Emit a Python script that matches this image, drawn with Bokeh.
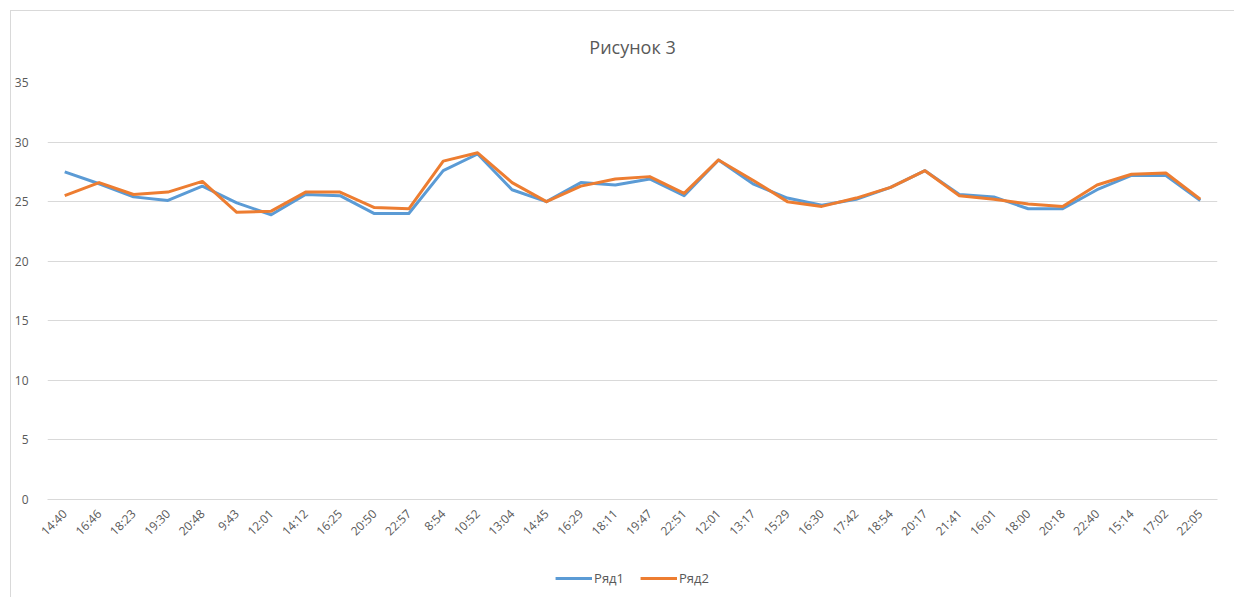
from bokeh.plotting import figure
from bokeh.layouts import column
from bokeh.models import FixedTicker, Legend, LegendItem, Range1d, Title
from bokeh.embed import file_html
from bokeh.resources import INLINE
import math

categories = ["14:40", "16:46", "18:23", "19:30", "20:48", "9:43", "12:01", "14:12", "16:25",
              "20:50", "22:57", "8:54", "10:52", "13:04", "14:45", "16:29", "18:11", "19:47",
              "22:51", "12:01", "13:17", "15:29", "16:30", "17:42", "18:54", "20:17", "21:41",
              "16:01", "18:00", "20:18", "22:40", "15:14", "17:02", "22:05"]
ryad1 = [27.5, 26.5, 25.4, 25.1, 26.3, 24.9, 23.9, 25.6, 25.5, 24.0, 24.0, 27.6, 29.0, 26.0,
         25.0, 26.6, 26.4, 26.9, 25.5, 28.5, 26.5, 25.3, 24.7, 25.2, 26.2, 27.6, 25.6, 25.4,
         24.4, 24.4, 26.0, 27.2, 27.2, 25.1]
ryad2 = [25.5, 26.6, 25.6, 25.8, 26.7, 24.1, 24.2, 25.8, 25.8, 24.5, 24.4, 28.4, 29.1, 26.6,
         25.0, 26.3, 26.9, 27.1, 25.7, 28.5, 26.8, 25.0, 24.6, 25.3, 26.2, 27.6, 25.5, 25.2,
         24.8, 24.6, 26.4, 27.3, 27.4, 25.2]
y_ticks = [0, 5, 10, 15, 20, 25, 30, 35]

FONT = "Open Sans"
GRAY = "#595959"
BLUE = "#5B9BD5"
ORANGE = "#ED7D31"

xs = list(range(len(categories)))

p = figure(width=1223, height=548, output_backend="svg", toolbar_location=None,
           x_range=Range1d(-0.5, len(categories) - 0.5), y_range=Range1d(0, 35),
           min_border_left=31, min_border_right=17, min_border_top=71, min_border_bottom=60)

t = Title(text="Рисунок 3", align="center", vertical_align="top", text_font=FONT,
          text_font_size="18px", text_font_style="normal", text_color=GRAY, standoff=44)
p.add_layout(t, "above")

p.line(xs, ryad1, line_color=BLUE, line_width=3, line_join="round")
p.line(xs, ryad2, line_color=ORANGE, line_width=3, line_join="round")

p.outline_line_color = None
p.xgrid.grid_line_color = None
p.ygrid.grid_line_color = "#d9d9d9"
p.ygrid.ticker = FixedTicker(ticks=y_ticks)

p.yaxis.ticker = FixedTicker(ticks=y_ticks)
p.yaxis.axis_line_color = None
p.yaxis.major_tick_line_color = None
p.yaxis.minor_tick_line_color = None
p.yaxis.major_label_text_font = FONT
p.yaxis.major_label_text_font_size = "12px"
p.yaxis.major_label_text_color = GRAY
p.yaxis.major_label_standoff = 13

p.xaxis.ticker = FixedTicker(ticks=xs)
p.xaxis.major_label_overrides = {i: c for i, c in enumerate(categories)}
p.xaxis.major_label_orientation = math.pi / 4
p.xaxis.axis_line_color = "#d9d9d9"
p.xaxis.major_tick_line_color = None
p.xaxis.minor_tick_line_color = None
p.xaxis.major_label_text_font = FONT
p.xaxis.major_label_text_font_size = "12px"
p.xaxis.major_label_text_color = GRAY
p.xaxis.major_label_standoff = 6

# legend strip below the axis labels (dummy renderers kept outside the visible range)
lf = figure(width=1223, height=38, output_backend="svg", toolbar_location=None,
            x_range=Range1d(0, 1), y_range=Range1d(0, 1),
            min_border_left=20, min_border_right=0, min_border_top=0, min_border_bottom=0)
lf.axis.visible = False
lf.grid.visible = False
lf.outline_line_color = None
l1 = lf.line([-5, -4], [-5, -5], line_color=BLUE, line_width=3)
l2 = lf.line([-5, -4], [-5, -5], line_color=ORANGE, line_width=3)
legend = Legend(items=[LegendItem(label="Ряд1", renderers=[l1]),
                       LegendItem(label="Ряд2", renderers=[l2])],
                orientation="horizontal", location="center",
                label_text_font=FONT, label_text_font_size="13px", label_text_color=GRAY,
                glyph_width=37, label_standoff=2, spacing=16, border_line_color=None,
                background_fill_alpha=0, padding=0, margin=0)
lf.add_layout(legend, "center")

layout = column(p, lf, spacing=0,
                styles={"margin-left": "10px", "margin-top": "10px",
                        "border-left": "1px solid #d9d9d9",
                        "border-top": "1px solid #d9d9d9"})

open("out.html", "w").write(file_html(layout, INLINE))
